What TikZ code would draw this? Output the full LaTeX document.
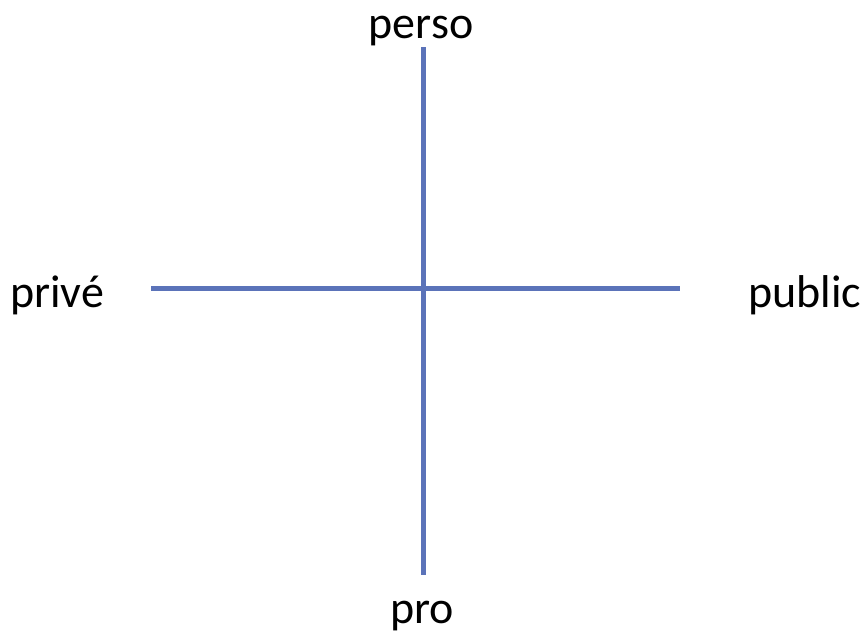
\documentclass[tikz,border=0pt]{standalone}
\usepackage{fontspec}
\setmainfont{Carlito}
\usetikzlibrary{positioning}
\definecolor{axisblue}{RGB}{91,115,185}

\begin{document}
\begin{tikzpicture}[
            x=1pt, y=-1pt,
            font=\fontsize{46}{55}\selectfont,
            axislabel/.style={anchor=base, inner sep=0pt, text=black},
            axisline/.style={draw=axisblue, line width=5pt}
        ]
        \useasboundingbox (0,0) rectangle (867,637);

        % Estremi degli assi
        \coordinate (top) at (423,47);
        \coordinate (bottom) at (423,575);
        \coordinate (left) at (151,288);
        \coordinate (right) at (680,288);

        % Etichette
        \node (perso) [axislabel] at (421,38) {perso};
        \node (pro) [axislabel] at (422,623) {pro};
        \node (prive) [axislabel] at (57,307) {privé};
        \node (public) [axislabel] at (805,307) {public};

        % Assi
        \draw [axisline] (top) -- (bottom);
        \draw [axisline] (left) -- (right);

    \end{tikzpicture}
\end{document}
